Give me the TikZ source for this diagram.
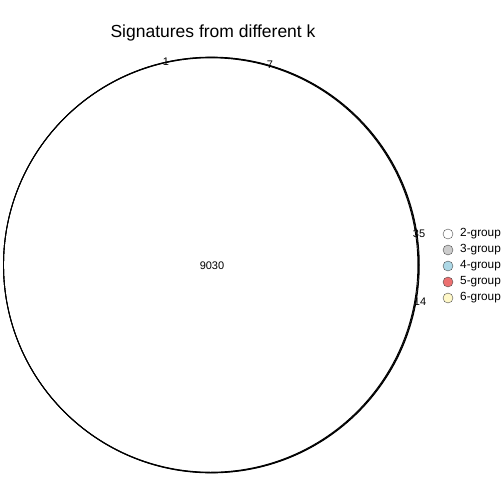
\documentclass[tikz,border=0pt]{standalone}
\usepackage{fontspec}
\setmainfont{Liberation Sans}
\begin{document}
\begin{tikzpicture}[x=1pt,y=-1pt,
  setcircle/.style={draw=black, line width=0.9pt},
  cnt/.style={font=\fontsize{11}{12}\selectfont, inner sep=0pt},
  legdot/.style={circle, draw=black!70, line width=0.4pt, minimum size=10pt, inner sep=0pt},
  legtxt/.style={font=\fontsize{11.8}{13}\selectfont, anchor=west, inner sep=0pt}]
\useasboundingbox (0,0) rectangle (504,504);
\node[font=\fontsize{17.5}{20}\selectfont] (title) at (213,33) {Signatures from different k};
\draw[setcircle] (210.7,265) circle[radius=207.2];
\draw[setcircle] (211.1,265) circle[radius=207.6];
\draw[setcircle] (211.4,265) circle[radius=207.9];
\node[cnt] (n1) at (166,62) {1};
\node[cnt] (n7) at (270,65) {7};
\node[cnt] (n35) at (419,234) {35};
\node[cnt] (n14) at (420,302) {14};
\node[cnt] (nmain) at (212,266) {9030};
\node[legdot, fill=white] (l2) at (448,234) {};
\node[legdot, fill=black!20] (l3) at (448,250) {};
\node[legdot, fill={rgb,255:red,173;green,216;blue,230}] (l4) at (448,266) {};
\node[legdot, fill={rgb,255:red,236;green,112;blue,112}] (l5) at (448,282) {};
\node[legdot, fill={rgb,255:red,255;green,248;blue,200}] (l6) at (448,298) {};
\node[legtxt] at (460,234) {2-group};
\node[legtxt] at (460,250) {3-group};
\node[legtxt] at (460,266) {4-group};
\node[legtxt] at (460,282) {5-group};
\node[legtxt] at (460,298) {6-group};
\end{tikzpicture}
\end{document}
